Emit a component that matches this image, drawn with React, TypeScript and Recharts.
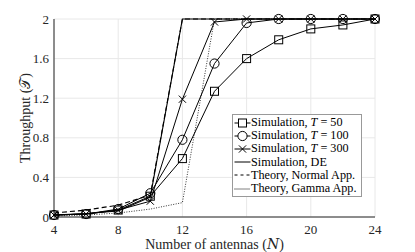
import React from 'react'
import { LineChart, Line, XAxis, YAxis, CartesianGrid, Label } from 'recharts'

const antennas = [4, 6, 8, 10, 12, 14, 16, 18, 20, 22, 24]
const simT50 = [0.02, 0.03, 0.07, 0.21, 0.59, 1.27, 1.6, 1.79, 1.9, 1.94, 2]
const simT100 = [0.02, 0.03, 0.08, 0.24, 0.78, 1.55, 1.96, 2, 2, 2, 2]
const simT300 = [0.02, 0.03, 0.07, 0.16, 1.19, 1.97, 2, 2, 2, 2, 2]
const simDE = [0.02, 0.035, 0.06, 0.2, 2, 2, 2, 2, 2, 2, 2]
const theoryNormal = [0.04, 0.07, 0.12, 0.22, 2, 2, 2, 2, 2, 2, 2]
const theoryGamma = [0.01, 0.02, 0.04, 0.08, 0.145, 2, 2, 2, 2, 2, 2]

const xTicks = [4, 8, 12, 16, 20, 24]
const yTicks = [0, 0.4, 0.8, 1.2, 1.6, 2]

const data = antennas.map((n, i) => ({
  n,
  t50: simT50[i],
  t100: simT100[i],
  t300: simT300[i],
  de: simDE[i],
  normal: theoryNormal[i],
  gamma: theoryGamma[i]
}))

const FONT = '"Liberation Serif", "DejaVu Serif", serif'

// marker shapes
const SquareDot = (props: any) => {
  const { cx, cy, index } = props
  return <rect key={`sq-${index}`} x={cx - 4} y={cy - 4} width={8} height={8} fill="none" stroke="#000" strokeWidth={1} />
}
const CircleDot = (props: any) => {
  const { cx, cy, index } = props
  return <circle key={`ci-${index}`} cx={cx} cy={cy} r={4.6} fill="none" stroke="#000" strokeWidth={1} />
}
const CrossDot = (props: any) => {
  const { cx, cy, index } = props
  const s = 3.6
  return (
    <path key={`cr-${index}`} d={`M${cx - s},${cy - s}L${cx + s},${cy + s}M${cx - s},${cy + s}L${cx + s},${cy - s}`} stroke="#000" strokeWidth={1} fill="none" />
  )
}

const legendRows = [
  { label: 'Simulation, ', ital: 'T', rest: ' = 50', marker: 'square', dash: '' },
  { label: 'Simulation, ', ital: 'T', rest: ' = 100', marker: 'circle', dash: '' },
  { label: 'Simulation, ', ital: 'T', rest: ' = 300', marker: 'cross', dash: '' },
  { label: 'Simulation, DE', ital: '', rest: '', marker: '', dash: '' },
  { label: 'Theory, Normal App.', ital: '', rest: '', marker: '', dash: '3 3' },
  { label: 'Theory, Gamma App.', ital: '', rest: '', marker: '', dash: '1 1' }
]

const LegendBox = () => (
  <div style={{ position: 'absolute', left: 232, top: 114, background: '#fff', border: '1px solid #999', padding: '1px 4px 1px 1px', fontFamily: FONT, fontSize: 12.2, lineHeight: '13.2px', color: '#000' }}>
    {legendRows.map((r, i) => (
      <div key={i} style={{ display: 'flex', alignItems: 'center', whiteSpace: 'nowrap' }}>
        <svg width={17} height={12} style={{ marginRight: 0 }}>
          <line x1={0.5} y1={6} x2={16.5} y2={6} stroke="#000" strokeWidth={1} strokeDasharray={r.dash || undefined} />
          {r.marker === 'square' && <rect x={4.5} y={2} width={8} height={8} fill="#fff" stroke="#000" />}
          {r.marker === 'circle' && <circle cx={8.5} cy={6} r={4.6} fill="#fff" stroke="#000" />}
          {r.marker === 'cross' && <path d="M4.9,2.4L12.1,9.6M4.9,9.6L12.1,2.4" stroke="#000" />}
        </svg>
        <span>
          {r.label}
          {r.ital && <i>{r.ital}</i>}
          {r.rest}
        </span>
      </div>
    ))}
  </div>
)

export default function App() {
  return (
    <div style={{ position: 'absolute', left: 0, top: 0, width: 415, height: 252, background: '#fff' }}>
      <LineChart width={415} height={252} data={data} margin={{ top: 19, right: 40, left: 0, bottom: 0 }}>
        <CartesianGrid stroke="#e8e8e8" strokeWidth={1} />
        <XAxis
          dataKey="n"
          type="number"
          domain={[4, 24]}
          ticks={xTicks}
          height={35}
          tickSize={0}
          tickMargin={8}
          stroke="#262626"
          tick={{ fontFamily: FONT, fontSize: 13, fill: '#262626' }}
        >
          <Label position="insideBottom" offset={3} style={{ fontFamily: FONT, fontSize: 14, fill: '#262626' }}>
            Number of antennas (𝑁)
          </Label>
        </XAxis>
        <XAxis xAxisId="top" orientation="top" dataKey="n" type="number" domain={[4, 24]} ticks={xTicks} height={0} tick={false} tickSize={0} stroke="#262626" />
        <YAxis
          type="number"
          domain={[0, 2]}
          ticks={yTicks}
          width={54}
          tickSize={0}
          tickMargin={5}
          stroke="#262626"
          tick={{ fontFamily: FONT, fontSize: 13, fill: '#262626' }}
        >
          <Label angle={-90} position="insideLeft" offset={25} style={{ fontFamily: FONT, fontSize: 14, fill: '#262626', textAnchor: 'middle' }}>
            Throughput (𝒯)
          </Label>
        </YAxis>
        <YAxis yAxisId="right" orientation="right" domain={[0, 2]} ticks={yTicks} width={0} tick={false} tickSize={0} stroke="#262626" />
        <Line dataKey="gamma" stroke="#333" strokeWidth={1} strokeDasharray="1 1.5" dot={false} isAnimationActive={false} />
        <Line dataKey="normal" stroke="#000" strokeWidth={1.1} strokeDasharray="5 3" dot={false} isAnimationActive={false} />
        <Line dataKey="de" stroke="#000" strokeWidth={1.1} dot={false} isAnimationActive={false} />
        <Line dataKey="t50" stroke="#000" strokeWidth={1} dot={SquareDot} isAnimationActive={false} />
        <Line dataKey="t100" stroke="#000" strokeWidth={1} dot={CircleDot} isAnimationActive={false} />
        <Line dataKey="t300" stroke="#000" strokeWidth={1} dot={CrossDot} isAnimationActive={false} />
      </LineChart>
      <LegendBox />
    </div>
  )
}
